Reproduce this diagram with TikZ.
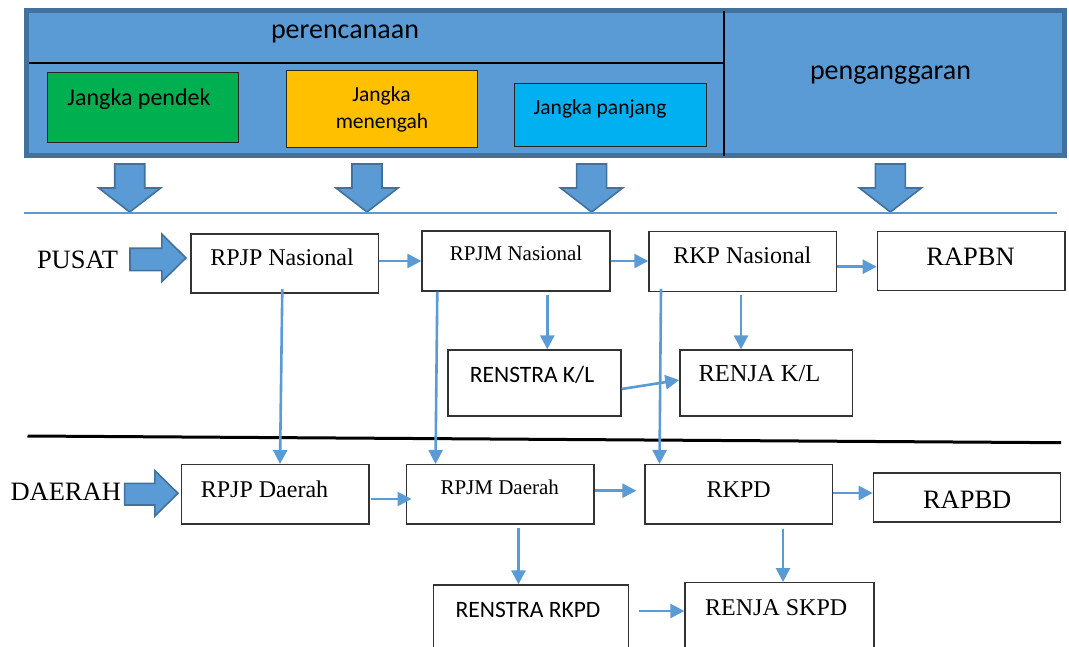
\documentclass[tikz,border=0pt]{standalone}
\usepackage{fontspec}
\setmainfont{Liberation Serif}
\newfontfamily\calfont{Carlito}
\usetikzlibrary{arrows.meta,calc}
\definecolor{bfill}{HTML}{5B9BD5}
\definecolor{bedge}{HTML}{41719C}
\definecolor{jgreen}{HTML}{00B050}
\definecolor{jorange}{HTML}{FFC000}
\definecolor{jcyan}{HTML}{00B0F0}
\definecolor{boxline}{HTML}{333333}
\tikzset{
  box/.style={draw=boxline, line width=1.3pt, fill=white, inner sep=0pt},
  subbox/.style={draw=black!85, line width=1pt, inner sep=0pt},
  conn/.style={draw=bfill, line width=2.6pt, -{Triangle[length=14pt,width=14pt]}},
  blockarr/.style={fill=bfill, draw=bedge, line width=1.6pt, line join=miter},
  lbl/.style={anchor=base, inner sep=0pt},
  lblw/.style={anchor=base west, inner sep=0pt},
  downarr/.pic={\draw[blockarr] (-15,0) -- (15,0) -- (15,24) -- (31,24) -- (0,48) -- (-31,24) -- (-15,24) -- cycle;}
}
\begin{document}
\begin{tikzpicture}[x=1pt,y=-1pt]
\useasboundingbox (0,0) rectangle (1069,647);
\clip (0,0) rectangle (1069,647);

% top panel
\draw[bedge, line width=5pt, fill=bfill] (26.5,10.5) rectangle (1064.5,155.8);
\draw[black, line width=2.2pt] (29,63.3) -- (723.8,63.3);
\draw[black, line width=2.2pt] (723.8,11) -- (723.8,156.5);
\node[subbox, fill=jgreen, minimum width=191pt, minimum height=69.6pt] (jpendek) at (143,107.5) {};
\node[subbox, fill=jorange, minimum width=190.6pt, minimum height=77.3pt] (jmenengah) at (381.7,108.7) {};
\node[subbox, fill=jcyan, minimum width=192.2pt, minimum height=63.4pt] (jpanjang) at (610.1,115) {};
\node[lbl, font=\calfont\fontsize{28}{32}\selectfont] (tperen) at (345,39) {perencanaan};
\node[lbl, font=\calfont\fontsize{28}{32}\selectfont] (tpeng) at (890.5,80) {penganggaran};
\node[lbl, font=\calfont\fontsize{24}{28}\selectfont] (tpendek) at (139,106) {Jangka pendek};
\node[lbl, font=\calfont\fontsize{21.5}{25}\selectfont] (tmen1) at (381.4,101.7) {Jangka};
\node[lbl, font=\calfont\fontsize{21.5}{25}\selectfont] (tmen2) at (382,128.3) {menengah};
\node[lbl, font=\calfont\fontsize{21.5}{25}\selectfont] (tpanjang) at (600,115) {Jangka panjang};

% down block arrows
\pic at (129.7,164) {downarr};
\pic at (367,164) {downarr};
\pic at (591.6,164) {downarr};
\pic at (890.4,164) {downarr};
\draw[bfill, line width=2pt] (24,213.5) -- (1057,213.5);

% separator
\draw[black, line width=3pt] (27.5,436) -- (1061,442.7);

% side labels and block arrows
\node[lblw, font=\fontsize{26.5}{30}\selectfont] (tpusat) at (36.8,268.3) {PUSAT};
\node[lblw, font=\fontsize{26.5}{30}\selectfont] (tdaerah) at (10.3,500) {DAERAH};
\draw[blockarr] (130,248.3) -- (161.8,248.3) -- (161.8,234) -- (185.9,258) -- (161.8,281.7) -- (161.8,270.7) -- (130,270.7) -- cycle;
\draw[blockarr] (124.6,483.3) -- (154.9,483.3) -- (154.9,470.7) -- (178,493.3) -- (154.9,516) -- (154.9,505) -- (124.6,505) -- cycle;

% boxes
\node[box, minimum width=187.3pt, minimum height=59pt] (rpjpn) at (284.5,263.5) {};
\node[box, minimum width=188pt, minimum height=60pt] (rpjmn) at (516,261) {};
\node[box, minimum width=187.7pt, minimum height=60pt] (rkpn) at (742.8,261.7) {};
\node[box, minimum width=187.7pt, minimum height=59pt] (rapbn) at (971.2,261.2) {};
\node[box, minimum width=173pt, minimum height=66pt] (renstrakl) at (534.5,383) {};
\node[box, minimum width=172.7pt, minimum height=66pt] (renjakl) at (766.3,383) {};
\node[box, minimum width=187.3pt, minimum height=59.3pt] (rpjpd) at (275.3,494.3) {};
\node[box, minimum width=187.3pt, minimum height=59.3pt] (rpjmd) at (500.3,494.3) {};
\node[box, minimum width=187.3pt, minimum height=59.3pt] (rkpd) at (738.7,494.3) {};
\node[box, minimum width=187.4pt, minimum height=49pt] (rapbd) at (967,497.5) {};
\node[box, minimum width=195pt, minimum height=110pt] (renstrarkpd) at (530.8,640) {};
\node[box, minimum width=189pt, minimum height=110pt] (renjaskpd) at (779.5,637.7) {};

% box texts
\node[lbl, font=\fontsize{24}{28}\selectfont] (trpjpn) at (282,265.7) {RPJP Nasional};
\node[lbl, font=\fontsize{21}{25}\selectfont] (trpjmn) at (516,260.7) {RPJM Nasional};
\node[lbl, font=\fontsize{24}{28}\selectfont] (trkpn) at (742.4,264) {RKP Nasional};
\node[lbl, font=\fontsize{26.5}{30}\selectfont] (trapbn) at (970.5,266) {RAPBN};
\node[lbl, font=\calfont\fontsize{23.5}{27}\selectfont] (trenstrakl) at (532,382.7) {RENSTRA K/L};
\node[lbl, font=\fontsize{24.5}{28}\selectfont] (trenjakl) at (759.5,381.7) {RENJA K/L};
\node[lbl, font=\fontsize{24}{28}\selectfont] (trpjpd) at (264.5,497) {RPJP Daerah};
\node[lbl, font=\fontsize{21}{25}\selectfont] (trpjmd) at (499.7,494.7) {RPJM Daerah};
\node[lbl, font=\fontsize{24}{28}\selectfont] (trkpd) at (738.7,497) {RKPD};
\node[lbl, font=\fontsize{26.5}{30}\selectfont] (trapbd) at (967.2,508) {RAPBD};
\node[lbl, font=\calfont\fontsize{23.5}{27}\selectfont] (trenstrarkpd) at (528,617.7) {RENSTRA RKPD};
\node[lbl, font=\fontsize{24}{28}\selectfont] (trenjaskpd) at (776.2,615.7) {RENJA SKPD};

% connectors
\draw[conn] (rpjpn.east |- 0,261) -- (rpjmn.west |- 0,261);
\draw[conn] (rpjmn.east |- 0,261) -- (rkpn.west |- 0,261);
\draw[conn] (rkpn.east |- 0,266.7) -- (rapbn.west |- 0,266.7);
\draw[conn] ($(rpjmn.south -| 547.3,0)+(0,3)$) -- (renstrakl.north -| 547.3,0);
\draw[conn] ($(rkpn.south -| 741,0)+(0,3)$) -- (renjakl.north -| 741,0);
\draw[conn] (renstrakl.east |- 0,389) -- (renjakl.west |- 0,380);
\draw[conn] ($(rpjpn.south -| 282.3,0)+(0,-4.5)$) -- (rpjpd.north -| 280,0);
\draw[conn] (rpjmn.south -| 437.3,0) -- (rpjmd.north -| 435.5,0);
\draw[conn] ($(rkpn.south -| 661,0)+(0,-3.5)$) -- (rkpd.north -| 659.5,0);
\draw[conn] ($(rpjpd.east |- 0,499)+(1.5,0)$) -- ($(rpjmd.west |- 0,499)+(5.5,0)$);
\draw[conn] (rpjmd.east |- 0,490.7) -- ($(rkpd.west |- 0,490.7)+(-8,0)$);
\draw[conn] (rkpd.east |- 0,493) -- (rapbd.west |- 0,493);
\draw[conn] ($(rpjmd.south -| 518.5,0)+(0,3.5)$) -- (renstrarkpd.north -| 518.5,0);
\draw[conn] ($(rkpd.south -| 783,0)+(0,4)$) -- (renjaskpd.north -| 783,0);
\draw[conn] ($(renstrarkpd.east |- 0,611)+(10.5,0)$) -- (renjaskpd.west |- 0,611);
\end{tikzpicture}
\end{document}
